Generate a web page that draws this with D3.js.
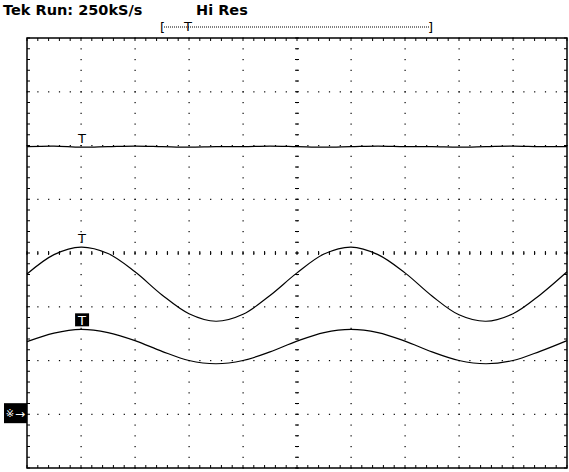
<!DOCTYPE html><html><head><meta charset="utf-8">
<script src="https://cdn.jsdelivr.net/npm/d3@7"></script>
<style>body{margin:0;background:#fff}</style></head><body>
<svg id="c" width="569" height="472"></svg>
<script>
const timeDiv=[0,0.5,1,1.5,2,2.5,3,3.5,4,4.5,5,5.5,6,6.5,7,7.5,8,8.5,9,9.5,10];
const ch1=[1.98,1.99,1.97,1.98,1.99,1.98,1.97,1.98,1.98,1.99,1.98,1.97,1.98,1.99,1.98,1.98,1.97,1.98,1.99,1.98,1.98];
const ch2=[-0.39,-0.03,0.11,-0.01,-0.35,-0.78,-1.13,-1.27,-1.14,-0.79,-0.37,-0.02,0.11,-0.03,-0.37,-0.80,-1.15,-1.27,-1.13,-0.78,-0.35];
const ch3=[-1.65,-1.49,-1.42,-1.48,-1.63,-1.83,-2.00,-2.06,-2.00,-1.84,-1.64,-1.48,-1.42,-1.48,-1.64,-1.84,-2.00,-2.06,-2.00,-1.83,-1.63];
const xDivs=d3.range(0,11), yDivs=d3.range(-4,5);
const svg=d3.select("#c");
const x=d3.scaleLinear().domain([0,10]).range([27,567]);
const y=d3.scaleLinear().domain([-4,4]).range([468,38]);
svg.append("rect").attr("x",x(0)).attr("y",y(4)).attr("width",x(10)-x(0)).attr("height",y(-4)-y(4)).attr("fill","none").attr("stroke","#000").attr("stroke-width",1.5);
const g=svg.append("g").attr("fill","#000");
xDivs.slice(1,-1).forEach(d=>{d3.range(-4,4.01,0.2).forEach(v=>g.append("rect").attr("x",x(d)-0.5).attr("y",y(v)-0.5).attr("width",1.2).attr("height",1.2));});
yDivs.slice(1,-1).forEach(d=>{d3.range(0,10.01,0.2).forEach(v=>g.append("rect").attr("x",x(v)-0.5).attr("y",y(d)-0.5).attr("width",1.2).attr("height",1.2));});
const tk=svg.append("g").attr("stroke","#000").attr("stroke-width",1);
d3.range(0,10.01,0.2).forEach(v=>{
 tk.append("line").attr("x1",x(v)).attr("x2",x(v)).attr("y1",y(0)-2).attr("y2",y(0)+2);
 tk.append("line").attr("x1",x(v)).attr("x2",x(v)).attr("y1",y(4)).attr("y2",y(4)+3);
 tk.append("line").attr("x1",x(v)).attr("x2",x(v)).attr("y1",y(-4)).attr("y2",y(-4)-3);
});
d3.range(-4,4.01,0.2).forEach(v=>{
 tk.append("line").attr("x1",x(5)-2).attr("x2",x(5)+2).attr("y1",y(v)).attr("y2",y(v));
 tk.append("line").attr("x1",x(0)).attr("x2",x(0)+3).attr("y1",y(v)).attr("y2",y(v));
 tk.append("line").attr("x1",x(10)).attr("x2",x(10)-3).attr("y1",y(v)).attr("y2",y(v));
});
const line=d3.line().x((d,i)=>x(timeDiv[i])).y(d=>y(d)).curve(d3.curveCatmullRom);
[ch1,ch2,ch3].forEach(s=>svg.append("path").attr("d",line(s)).attr("fill","none").attr("stroke","#000").attr("stroke-width",1.2));
const tm=[[1.98,false],[0.11,false],[-1.42,true]];
tm.forEach(([v,inv])=>{const cx=x(1.02),cy=y(v)-4;
 if(inv){svg.append("rect").attr("x",cx-7).attr("y",cy-12).attr("width",14).attr("height",13).attr("fill","#000");}
 svg.append("text").attr("x",cx).attr("y",cy).attr("text-anchor","middle").attr("font-family","DejaVu Sans").attr("font-size",13).attr("fill",inv?"#fff":"#000").text("T");});
const hdr=svg.append("text").attr("x",3).attr("y",15).attr("font-family","DejaVu Sans").attr("font-weight","bold").attr("font-size",14.5).attr("fill","#000");
hdr.append("tspan").text("Tek");
hdr.append("tspan").attr("font-weight","600").text(" Run: 250kS/s");
svg.append("text").attr("x",196).attr("y",15).attr("font-family","DejaVu Sans").attr("font-weight","600").attr("font-size",14.5).text("Hi Res");
svg.append("line").attr("x1",164).attr("x2",430).attr("y1",27).attr("y2",27).attr("stroke","#000").attr("stroke-dasharray","1,1");
svg.append("text").attr("x",160).attr("y",32).attr("font-family","DejaVu Sans").attr("font-size",13).text("[");
svg.append("text").attr("x",428).attr("y",32).attr("font-family","DejaVu Sans").attr("font-size",13).text("]");
svg.append("text").attr("x",188).attr("y",31).attr("text-anchor","middle").attr("font-family","DejaVu Sans").attr("font-size",13).text("T");
const gy=y(-2.98);
svg.append("rect").attr("x",4).attr("y",gy-10).attr("width",23).attr("height",20).attr("fill","#000");
svg.append("text").attr("x",10).attr("y",gy+4).attr("text-anchor","middle").attr("font-family","DejaVu Sans").attr("font-size",10).attr("fill","#fff").text("※");
svg.append("text").attr("x",20).attr("y",gy+5).attr("text-anchor","middle").attr("font-family","DejaVu Sans").attr("font-size",12).attr("fill","#fff").text("→");
</script></body></html>
